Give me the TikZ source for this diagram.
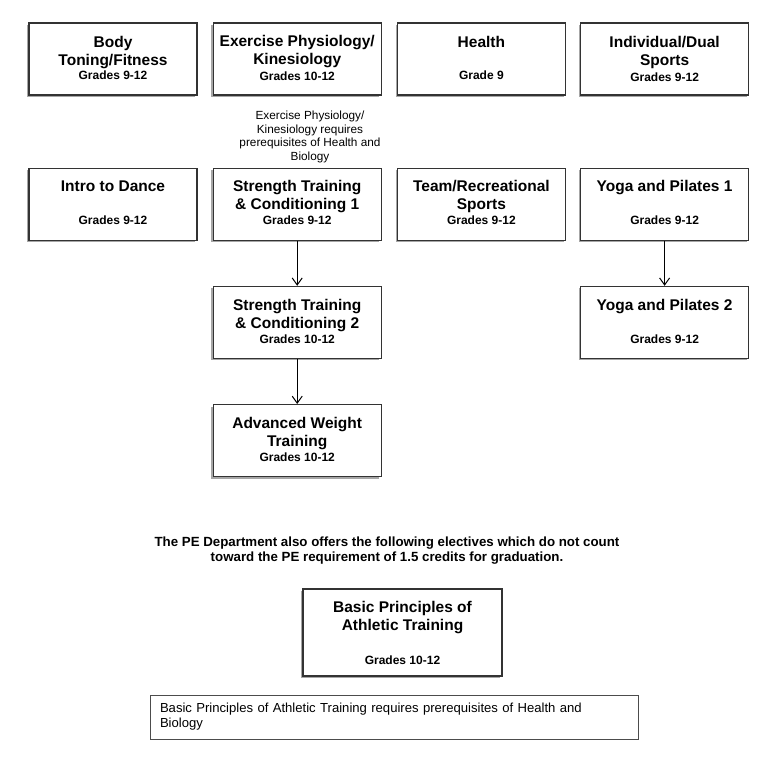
\documentclass[tikz,border=0pt]{standalone}
\usepackage{fontspec}
\setmainfont{Liberation Sans}
\usetikzlibrary{positioning,shadows,arrows.meta}

\begin{document}
\begin{tikzpicture}[x=1pt,y=-1pt,->,>={Straight Barb[length=7pt,width=10pt]},node distance=15pt,
                    line width=1pt]
\tikzset{course/.style={draw=black!80,fill=white,line width=1.2pt,minimum width=168pt,minimum height=72pt,
    inner sep=0pt,drop shadow={shadow xshift=-1.8pt,shadow yshift=-2pt,fill=black!50,opacity=.7}}}
\tikzset{ctitle/.style={font=\bfseries\fontsize{15.5}{18}\selectfont,align=center,inner sep=0pt}}
\tikzset{grade/.style={font=\bfseries\fontsize{12}{14}\selectfont,inner sep=0pt}}

\useasboundingbox (0,0) rectangle (766,759);

        % first row
        \node[course]                         (body) at (113,59)        {};
        \node[ctitle, below=13.5pt of body.north]   (tbody)   {Body\\Toning/Fitness};
        \node[grade, above=15pt of body.south]      (gbody)   {Grades 9-12};

        \node[course, right=15pt of body]     (exphys)                  {};
        \node[ctitle, below=12.5pt of exphys.north] (texphys) {Exercise Physiology/\\Kinesiology};
        \node[grade, above=14.5pt of exphys.south]  (gexphys) {Grades 10-12};

        \node[course, right=15pt of exphys]   (health)                  {};
        \node[ctitle, below=13pt of health.north]   (thealth) {Health};
        \node[grade, above=15pt of health.south]    (ghealth) {Grade 9};

        \node[course, right=14pt of health]   (indiv)                   {};
        \node[ctitle, below=13pt of indiv.north]    (tindiv)  {Individual/Dual\\Sports};
        \node[grade, above=13.5pt of indiv.south]   (gindiv)  {Grades 9-12};

        \node[align=center, inner sep=0pt, font=\fontsize{11.8}{13.7}\selectfont] (exnote) at (310,137)
            {Exercise Physiology/\\Kinesiology requires\\prerequisites of Health and\\Biology};

        % second row
        \node[course, below=72pt of body]     (dance)                   {};
        \node[ctitle, below=12.5pt of dance.north]  (tdance)  {Intro to Dance};
        \node[grade, above=15.5pt of dance.south]   (gdance)  {Grades 9-12};

        \node[course, below=72pt of exphys]   (st1)                     {};
        \node[ctitle, below=12.5pt of st1.north]    (tst1)    {Strength Training\\\& Conditioning 1};
        \node[grade, above=15.5pt of st1.south]     (gst1)    {Grades 9-12};

        \node[course, below=72pt of health]   (team)                    {};
        \node[ctitle, below=12.5pt of team.north]   (tteam)   {Team/Recreational\\Sports};
        \node[grade, above=15.5pt of team.south]    (gteam)   {Grades 9-12};

        \node[course, below=72pt of indiv]    (yoga1)                   {};
        \node[ctitle, below=12.5pt of yoga1.north]  (tyoga1)  {Yoga and Pilates 1};
        \node[grade, above=15.5pt of yoga1.south]   (gyoga1)  {Grades 9-12};

        % third and fourth row
        \node[course, below=45pt of st1]      (st2)                     {};
        \node[ctitle, below=12.5pt of st2.north]    (tst2)    {Strength Training\\\& Conditioning 2};
        \node[grade, above=15pt of st2.south]       (gst2)    {Grades 10-12};

        \node[course, below=45pt of yoga1]    (yoga2)                   {};
        \node[ctitle, below=12.5pt of yoga2.north]  (tyoga2)  {Yoga and Pilates 2};
        \node[grade, above=15pt of yoga2.south]     (gyoga2)  {Grades 9-12};

        \node[course, below=45pt of st2]      (adv)                     {};
        \node[ctitle, below=12.5pt of adv.north]    (tadv)    {Advanced Weight\\Training};
        \node[grade, above=15pt of adv.south]       (gadv)    {Grades 10-12};

        % other electives
        \node[align=center, inner sep=0pt, font=\bfseries\fontsize{13.3}{15}\selectfont] (pe) at (387,550.5)
            {The PE Department also offers the following electives which do not count\\toward the PE requirement of 1.5 credits for graduation.};

        \node[course, minimum width=199pt, minimum height=87pt] (basic) at (402.5,632.5) {};
        \node[ctitle, below=12.5pt of basic.north]  (tbasic)  {Basic Principles of\\Athletic Training};
        \node[grade, above=11.7pt of basic.south]   (gbasic)  {Grades 10-12};

        \node[draw=black!70, line width=.8pt, minimum height=44pt, text width=468pt, inner xsep=10pt,
              align=left, font=\fontsize{13.1}{15}\selectfont] (note) at (394,717)
            {Basic Principles of Athletic Training requires prerequisites of Health and\\Biology};

        \path[->]
        (st1)   edge node {}   (st2)
        (st2)   edge node {}   (adv)
        (yoga1) edge node {}   (yoga2)
        ; %end path

\end{tikzpicture}
\end{document}
